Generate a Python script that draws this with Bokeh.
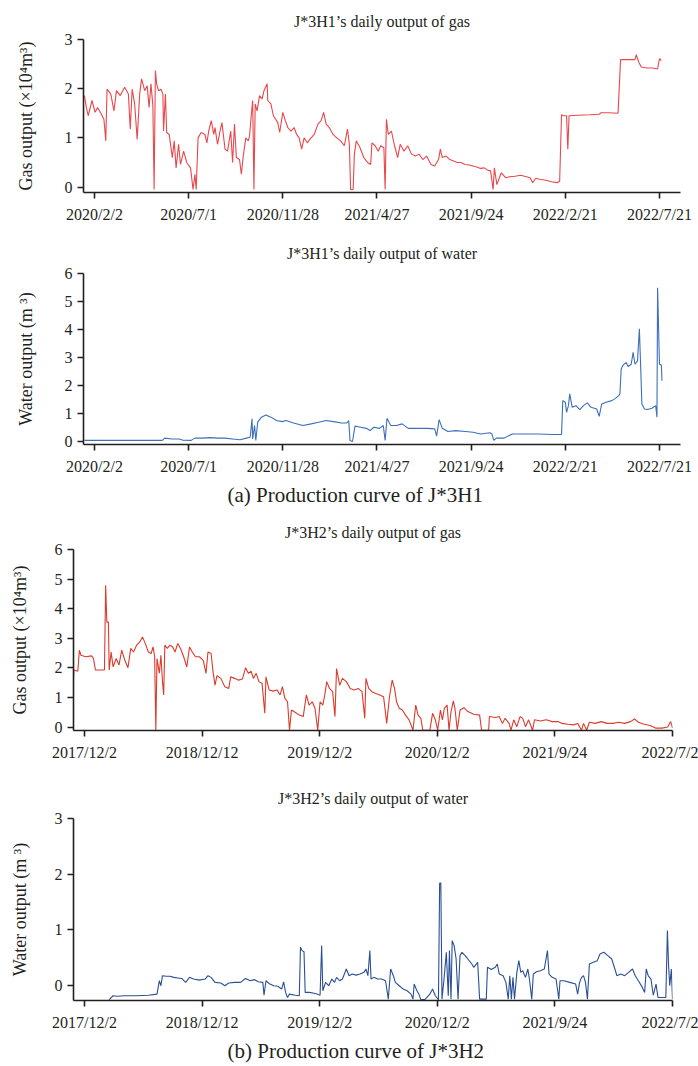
from bokeh.plotting import figure
from bokeh.layouts import column
from bokeh.models import Range1d, FixedTicker, Title
from bokeh.embed import file_html
from bokeh.resources import INLINE

FONT = "Liberation Serif"
INK = "#231f20"

# ---------------- data ----------------
# J*3H1: x = days since 2020/2/2
h1_tick_days = [0, 150, 300, 450, 600, 750, 900]
h1_tick_labels = ["2020/2/2", "2020/7/1", "2020/11/28", "2021/4/27",
                  "2021/9/24", "2022/2/21", "2022/7/21"]

gas1 = [(-16, 1.86), (-13, 1.62), (-10, 1.45), (-4, 1.76), (1, 1.52), (5, 1.62), (11, 1.48),
        (15, 1.38), (18, 0.94), (20, 1.99), (26, 1.89), (31, 1.55), (35, 1.96), (41, 1.86),
        (48, 2.03), (54, 1.89), (57, 1.18), (60, 1.99), (64, 1.69), (68, 0.97), (72, 1.89),
        (75, 2.2), (80, 1.96), (84, 2.06), (87, 1.62), (90, 2.1), (93, 1.65), (95, -0.05),
        (97, 2.37), (99, 2.1), (102, 1.96), (106, 1.99), (109, 1.89), (110, 1.14), (113, 1.89),
        (115, 1.11), (119, 1.07), (124, 0.6), (127, 0.94), (130, 0.39), (134, 0.87), (137, 0.46),
        (142, 0.73), (147, 0.5), (153, 0.39), (157, -0.05), (160, 0.26), (162, -0.05), (165, 1.0),
        (170, 1.11), (176, 1.07), (179, 0.9), (182, 1.14), (186, 1.35), (190, 1.07), (192, 1.21),
        (196, 0.87), (200, 1.14), (203, 1.31), (208, 0.77), (212, 0.73), (217, 1.14), (220, 0.5),
        (223, 1.28), (226, 0.6), (231, 0.56), (234, 0.26), (237, 0.63), (241, 1.0), (245, 0.94),
        (247, 1.04), (249, 1.35), (252, 1.76), (254, -0.05), (256, 1.69), (259, 1.55), (263, 1.86),
        (267, 1.79), (270, 1.96), (275, 2.1), (276, 1.76), (281, 1.69), (285, 1.45), (292, 1.31),
        (295, 1.11), (300, 1.52), (304, 1.35), (308, 1.21), (313, 1.14), (318, 1.21), (322, 1.07),
        (326, 1.0), (330, 0.77), (334, 1.0), (339, 0.9), (343, 0.97), (350, 1.07), (356, 1.28),
        (361, 1.35), (365, 1.52), (369, 1.28), (374, 1.21), (380, 1.07), (386, 1.0), (392, 0.94),
        (398, 0.84), (403, 1.18), (406, 0.87), (408, -0.05), (412, -0.05), (414, 0.67), (417, 0.94),
        (423, 0.8), (429, 0.6), (435, 0.5), (440, 0.46), (442, 0.9), (447, 0.84), (452, 0.73),
        (456, 0.84), (461, 0.8), (463, -0.05), (465, 1.38), (468, 1.07), (473, 1.14), (478, 0.84),
        (483, 0.6), (487, 0.87), (493, 0.73), (499, 0.84), (505, 0.67), (511, 0.63), (517, 0.67),
        (523, 0.56), (529, 0.63), (536, 0.46), (542, 0.43), (548, 0.56), (551, 0.77), (554, 0.6),
        (560, 0.63), (566, 0.56), (572, 0.53), (578, 0.5), (584, 0.5), (590, 0.46), (597, 0.45),
        (603, 0.43), (609, 0.41), (615, 0.38), (621, 0.39), (627, 0.34), (631, 0.33), (635, -0.05),
        (637, 0.39), (641, 0.05), (645, 0.19), (648, 0.29), (655, 0.19), (661, 0.21), (670, 0.22),
        (679, 0.24), (688, 0.21), (694, 0.19), (698, 0.09), (703, 0.18), (709, 0.16), (719, 0.14),
        (728, 0.11), (737, 0.09), (741, 0.12), (744, 1.47), (747, 1.45), (752, 1.45), (754, 0.77),
        (756, 1.45), (770, 1.46), (789, 1.47), (804, 1.48), (807, 1.51), (819, 1.51), (834, 1.5),
        (838, 2.59), (850, 2.59), (861, 2.59), (863, 2.69), (867, 2.54), (871, 2.44), (880, 2.42),
        (889, 2.42), (897, 2.4), (900, 2.61), (903, 2.57)]

water1 = [(-16, 0.04), (38, 0.04), (108, 0.04), (112, 0.12), (123, 0.09), (135, 0.09), (140, 0.05),
          (154, 0.04), (160, 0.12), (172, 0.12), (184, 0.14), (196, 0.12), (208, 0.12), (220, 0.09),
          (232, 0.06), (242, 0.12), (248, 0.15), (251, 0.81), (252, 0.09), (255, 0.57), (257, 0.04),
          (260, 0.69), (266, 0.87), (273, 0.95), (281, 0.87), (290, 0.75), (299, 0.71), (305, 0.75),
          (317, 0.66), (332, 0.57), (345, 0.63), (357, 0.69), (369, 0.75), (381, 0.71), (393, 0.66),
          (402, 0.66), (405, 0.75), (407, 0.04), (411, 0.0), (415, 0.55), (424, 0.51), (433, 0.47),
          (439, 0.39), (445, 0.51), (454, 0.47), (460, 0.57), (463, 0.04), (466, 0.83), (472, 0.57),
          (481, 0.57), (490, 0.63), (500, 0.47), (512, 0.47), (530, 0.47), (542, 0.45), (545, 0.19),
          (549, 0.78), (554, 0.47), (563, 0.36), (575, 0.39), (591, 0.36), (603, 0.33), (615, 0.27),
          (630, 0.31), (633, 0.27), (636, 0.04), (640, 0.12), (652, 0.12), (660, 0.21), (666, 0.27),
          (682, 0.27), (706, 0.27), (730, 0.25), (744, 0.25), (746, 1.46), (750, 1.4), (752, 1.04),
          (755, 1.28), (757, 1.7), (761, 1.22), (767, 1.28), (773, 1.14), (779, 1.28), (785, 1.38),
          (791, 1.22), (800, 1.16), (804, 0.9), (808, 1.34), (815, 1.4), (824, 1.46), (830, 1.54),
          (835, 1.64), (837, 1.7), (839, 2.59), (842, 2.73), (847, 2.82), (850, 2.68), (855, 2.76),
          (858, 3.18), (861, 2.76), (865, 2.88), (868, 4.03), (870, 2.7), (872, 1.34), (876, 1.16),
          (881, 1.14), (888, 1.19), (894, 1.28), (896, 0.87), (897, 5.49), (900, 2.76), (903, 2.73),
          (904, 2.17)]

# J*3H2: x = record position along the evenly labelled axis
h2_tick_pos = [0, 300, 600, 900, 1200, 1500]
h2_tick_labels = ["2017/12/2", "2018/12/12", "2019/12/2", "2020/12/2", "2021/9/24", "2022/7/2"]

gas2 = [(-29, 1.26), (-27, 1.93), (-17, 1.89), (-13, 2.6), (-9, 2.43), (3, 2.38), (18, 2.41),
        (23, 2.32), (28, 1.93), (43, 1.93), (51, 1.93), (54, 4.79), (57, 3.55), (61, 3.55),
        (63, 1.93), (68, 2.54), (73, 2.04), (81, 2.32), (88, 2.1), (95, 2.6), (103, 2.26),
        (111, 2.01), (118, 2.66), (125, 2.54), (133, 2.77), (141, 2.88), (148, 3.05), (155, 2.83),
        (163, 2.54), (170, 2.49), (175, 2.71), (179, 2.38), (182, -0.1), (185, 2.32), (191, 1.82),
        (195, 2.43), (199, 1.54), (202, 1.09), (205, 2.77), (211, 2.66), (218, 2.77), (225, 2.71),
        (231, 2.54), (238, 2.83), (245, 2.66), (253, 2.38), (261, 2.04), (268, 2.71), (275, 2.54),
        (283, 2.38), (293, 2.38), (303, 2.26), (310, 1.82), (315, 2.54), (323, 2.49), (328, 1.87),
        (333, 1.42), (338, 1.74), (348, 1.65), (358, 1.37), (368, 1.31), (373, 1.7), (383, 1.65),
        (393, 1.59), (403, 1.63), (411, 2.01), (418, 1.82), (425, 1.89), (431, 1.65), (438, 1.82),
        (445, 1.54), (453, 1.48), (460, 0.47), (463, 1.7), (471, 1.26), (481, 1.22), (491, 1.26),
        (499, 1.09), (505, 1.37), (511, 0.98), (518, 0.86), (523, -0.1), (528, 0.58), (538, 0.5),
        (548, 0.41), (558, 0.36), (566, 1.09), (573, 0.75), (581, 0.86), (588, 0.64), (595, -0.1),
        (601, 0.86), (608, 0.75), (613, 1.09), (618, 1.54), (625, 1.31), (633, 1.2), (639, 0.36),
        (643, 1.98), (651, 1.42), (658, 1.65), (668, 1.54), (678, 1.31), (688, 1.26), (698, 1.31),
        (708, 1.2), (715, 0.3), (718, 1.65), (725, 1.31), (733, 1.2), (743, 1.14), (753, 1.09),
        (763, 1.03), (771, 0.13), (778, 1.03), (785, 1.59), (791, 1.31), (796, 0.86), (803, 0.64),
        (811, 0.58), (819, 0.41), (828, 0.25), (838, -0.1), (845, 0.75), (851, 0.41), (858, 0.3),
        (863, -0.1), (881, -0.1), (888, 0.47), (895, 0.25), (901, -0.1), (908, 0.58), (913, 0.25),
        (918, 0.64), (925, 0.75), (930, -0.1), (935, 0.53), (941, 0.89), (945, 0.64), (951, -0.1),
        (958, 0.58), (968, 0.66), (978, 0.53), (993, 0.44), (1008, 0.41), (1013, -0.1), (1031, -0.1),
        (1033, 0.36), (1048, 0.33), (1058, 0.36), (1066, 0.13), (1073, 0.3), (1083, 0.13),
        (1088, -0.1), (1095, 0.25), (1103, 0.02), (1111, 0.36), (1118, 0.3), (1125, 0.02),
        (1133, 0.25), (1143, -0.1), (1148, 0.25), (1163, 0.21), (1178, 0.25), (1193, 0.19),
        (1208, 0.19), (1218, 0.13), (1233, 0.1), (1248, 0.08), (1258, 0.13), (1268, -0.1),
        (1273, 0.13), (1281, -0.1), (1288, 0.17), (1303, 0.13), (1318, 0.19), (1333, 0.13),
        (1348, 0.13), (1363, 0.17), (1378, 0.13), (1393, 0.19), (1403, 0.28), (1413, 0.17),
        (1428, 0.1), (1443, 0.06), (1458, -0.03), (1473, -0.03), (1488, 0.01), (1495, 0.19),
        (1498, 0.08), (1500, -0.03)]

water2 = [(63, -0.25), (73, -0.18), (83, -0.19), (103, -0.18), (133, -0.18), (163, -0.17),
          (185, -0.15), (191, 0.09), (195, 0.0), (199, 0.18), (208, 0.17), (218, 0.17), (228, 0.15),
          (238, 0.14), (248, 0.13), (258, 0.06), (268, 0.15), (278, 0.12), (293, 0.1), (308, 0.12),
          (315, 0.18), (323, 0.15), (333, 0.06), (348, 0.05), (358, 0.0), (368, 0.05), (383, 0.06),
          (398, 0.06), (411, 0.13), (423, 0.09), (433, 0.11), (443, 0.07), (455, 0.06), (458, -0.17),
          (463, 0.09), (473, 0.03), (483, 0.0), (493, -0.01), (503, -0.06), (508, 0.07), (513, -0.12),
          (518, -0.21), (523, -0.15), (538, -0.17), (548, -0.18), (551, 0.69), (555, 0.63),
          (560, 0.61), (563, -0.12), (573, -0.12), (583, -0.13), (593, -0.15), (601, -0.17),
          (605, 0.72), (608, -0.09), (615, 0.06), (623, 0.0), (631, 0.12), (638, 0.06), (643, 0.15),
          (651, 0.09), (658, 0.12), (668, 0.3), (675, 0.18), (683, 0.21), (693, 0.19), (703, 0.21),
          (713, 0.24), (718, 0.3), (723, 0.18), (728, 0.63), (731, 0.12), (738, 0.15), (748, 0.12),
          (758, 0.12), (768, 0.09), (775, -0.24), (781, 0.3), (788, 0.18), (793, 0.06), (803, 0.0),
          (813, -0.06), (823, -0.09), (833, -0.15), (838, -0.24), (841, 0.03), (848, -0.09),
          (853, -0.15), (858, -0.25), (868, -0.25), (881, -0.15), (888, -0.06), (895, -0.18),
          (903, -0.25), (906, 1.84), (909, 1.84), (912, -0.24), (918, 0.18), (923, 0.6), (928, -0.18),
          (931, 0.63), (935, -0.24), (938, 0.81), (943, 0.72), (948, 0.48), (953, -0.24), (958, 0.54),
          (963, 0.6), (971, 0.54), (978, 0.48), (988, 0.39), (993, 0.33), (1003, 0.42), (1008, -0.24),
          (1025, -0.24), (1028, 0.33), (1038, 0.29), (1048, 0.33), (1053, 0.39), (1058, 0.21),
          (1068, 0.18), (1075, 0.06), (1081, -0.24), (1085, 0.18), (1089, -0.24), (1093, 0.15),
          (1097, -0.24), (1103, 0.24), (1108, 0.45), (1113, 0.24), (1118, 0.27), (1125, 0.15),
          (1131, 0.3), (1135, 0.12), (1141, -0.24), (1145, 0.21), (1153, 0.25), (1163, 0.27),
          (1173, 0.3), (1181, 0.63), (1185, 0.21), (1193, 0.15), (1203, 0.12), (1210, -0.24),
          (1213, 0.09), (1223, 0.09), (1238, 0.06), (1253, 0.03), (1258, -0.15), (1263, 0.06),
          (1268, 0.15), (1273, 0.18), (1278, 0.06), (1283, -0.24), (1288, 0.39), (1298, 0.42),
          (1308, 0.45), (1315, 0.57), (1325, 0.6), (1335, 0.54), (1345, 0.48), (1353, 0.3),
          (1358, 0.18), (1368, 0.21), (1378, 0.18), (1388, 0.24), (1398, 0.3), (1405, 0.18),
          (1413, 0.09), (1423, -0.03), (1429, -0.12), (1433, 0.3), (1438, 0.18), (1445, 0.12),
          (1451, -0.17), (1458, 0.03), (1463, -0.21), (1473, -0.21), (1483, -0.21), (1487, 0.99),
          (1490, 0.36), (1493, 0.0), (1497, 0.3), (1500, -0.24)]


def make_plot(series, color, title, ylabel, xr, yr, yticks, xticks, xlabels,
              fw, fh, bl, br, bt, bb, title_standoff, label_standoff):
    p = figure(frame_width=fw, frame_height=fh,
               x_range=Range1d(*xr), y_range=Range1d(*yr),
               output_backend="svg", toolbar_location=None,
               min_border_left=bl, min_border_right=br,
               min_border_top=bt, min_border_bottom=bb,
               background_fill_color="white", border_fill_color="white")
    p.frame_align = False
    p.outline_line_color = None
    p.grid.visible = False
    xs = [d for d, _ in series]
    ys = [v for _, v in series]
    p.line(xs, ys, line_color=color, line_width=1.1)

    p.title.text = title
    p.title.align = "center"
    p.title.text_font = FONT
    p.title.text_font_size = "16px"
    p.title.text_font_style = "normal"
    p.title.text_color = INK
    p.title.standoff = title_standoff

    p.xaxis.ticker = FixedTicker(ticks=xticks)
    p.xaxis.major_label_overrides = {t: l for t, l in zip(xticks, xlabels)}
    p.yaxis.ticker = FixedTicker(ticks=yticks)
    for ax in (p.xaxis[0], p.yaxis[0]):
        ax.axis_line_color = INK
        ax.axis_line_width = 1.6
        ax.major_tick_line_color = INK
        ax.major_tick_line_width = 1.6
        ax.major_tick_in = 0
        ax.major_tick_out = 6
        ax.minor_tick_out = 0
        ax.minor_tick_in = 0
        ax.major_label_text_font = FONT
        ax.major_label_text_font_size = "16px"
        ax.major_label_text_color = INK
        ax.major_label_standoff = 5
    p.xaxis.major_label_standoff = 7
    p.yaxis.axis_label = ylabel
    p.yaxis.axis_label_text_font = FONT
    p.yaxis.axis_label_text_font_size = "18px"
    p.yaxis.axis_label_text_font_style = "normal"
    p.yaxis.axis_label_text_color = INK
    p.yaxis.axis_label_standoff = label_standoff
    return p


def add_caption(p, text, offset, standoff):
    cap = Title(text=text, align="left", offset=offset, text_font=FONT,
                text_font_size="21px", text_font_style="normal", text_color=INK,
                standoff=standoff)
    p.add_layout(cap, "below")


gas_label = "Gas output (\u00d710\u2074m\u00b3)"
water_label = "Water output (m \u00b3)"

p1 = make_plot(gas1, "#e8474c", "J*3H1\u2019s daily output of gas", gas_label,
               (-17.5, 933.5), (-0.11, 3.0), [0, 1, 2, 3], h1_tick_days, h1_tick_labels,
               597, 153, 83, 18, 38, 39, 20, 26)
p2 = make_plot(water1, "#3d6fbb", "J*3H1\u2019s daily output of water", water_label,
               (-17.5, 933.5), (-0.107, 6.0), [0, 1, 2, 3, 4, 5, 6], h1_tick_days, h1_tick_labels,
               597, 171, 83, 18, 42, 67, 23, 26)
add_caption(p2, "(a) Production curve of J*3H1", 144, 7)
p3 = make_plot(gas2, "#db3b2c", "J*3H2\u2019s daily output of gas", gas_label,
               (-28, 1500), (-0.11, 6.0), [0, 1, 2, 3, 4, 5, 6], h2_tick_pos, h2_tick_labels,
               599, 181, 73, 26, 38, 41, 17, 22)
p4 = make_plot(water2, "#2b4f95", "J*3H2\u2019s daily output of water", water_label,
               (-28, 1500), (-0.265, 3.0), [0, 1, 2, 3], h2_tick_pos, h2_tick_labels,
               599, 182, 73, 26, 47, 66, 23, 22)
add_caption(p4, "(b) Production curve of J*3H2", 154, 6)

layout = column(p1, p2, p3, p4)
open("out.html", "w").write(file_html(layout, INLINE))
